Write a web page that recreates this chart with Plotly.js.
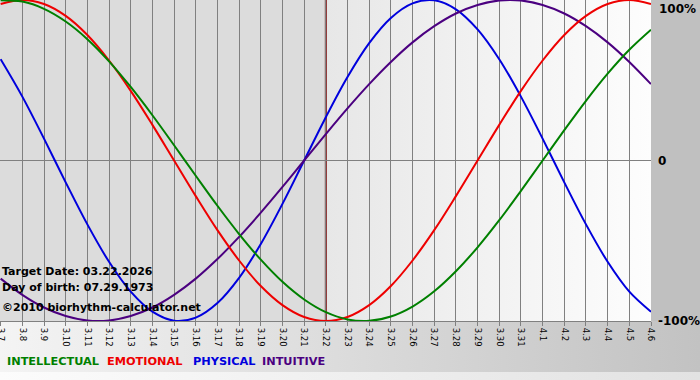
<!DOCTYPE html>
<html>
<head>
<meta charset="utf-8">
<script src="https://cdn.plot.ly/plotly-3.0.1.min.js"></script>
<style>
html,body{margin:0;padding:0;background:#ffffff;}
#chart{width:700px;height:380px;
background:
 linear-gradient(#dcdcdc,#dcdcdc) 0 0/325px 321px no-repeat,
 linear-gradient(to right,#e7e7e7,#fdfdfd) 325px 0/326px 321px no-repeat,
 linear-gradient(#c0c0c0,#c0c0c0) 651px 0/49px 321px no-repeat,
 linear-gradient(to right,#f4f4f4,#c2c2c2) 0 321px/700px 51px no-repeat,
 linear-gradient(to right,#fcfcfc,#e2e2e2) 0 372px/700px 8px no-repeat;
}
</style>
</head>
<body>
<div id="chart"></div>
<script>
// ---- data ----
const dates = ["3.7","3.8","3.9","3.10","3.11","3.12","3.13","3.14","3.15","3.16","3.17","3.18","3.19","3.20","3.21","3.22","3.23","3.24","3.25","3.26","3.27","3.28","3.29","3.30","3.31","4.1","4.2","4.3","4.4","4.5","4.6"];
const physical = [63.1,39.8,13.6,-13.6,-39.8,-63.1,-81.7,-94.2,-99.8,-97.9,-88.8,-73.1,-52.0,-27.0,0,27.0,52.0,73.1,88.8,97.9,99.8,94.2,81.7,63.1,39.8,13.6,-13.6,-39.8,-63.1,-81.7,-94.2];
const emotional = [97.5,100,97.5,90.1,78.2,62.3,43.4,22.2,0,-22.2,-43.4,-62.3,-78.2,-90.1,-97.5,-100,-97.5,-90.1,-78.2,-62.3,-43.4,-22.2,0,22.2,43.4,62.3,78.2,90.1,97.5,100,97.5];
const intellectual = [99.9,99.0,94.5,86.6,75.6,61.8,45.8,28.2,9.5,-9.5,-28.2,-45.8,-61.8,-75.6,-86.6,-94.5,-99.0,-99.9,-97.2,-91.0,-81.5,-69.0,-54.1,-37.2,-18.9,0,18.9,37.2,54.1,69.0,81.5];
const intuitive = [-73.6,-83.7,-91.6,-96.9,-99.7,-99.7,-96.9,-91.6,-83.7,-73.6,-61.4,-47.6,-32.5,-16.5,0,16.5,32.5,47.6,61.4,73.6,83.7,91.6,96.9,99.7,99.7,96.9,91.6,83.7,73.6,61.4,47.6];
const seriesNames = ["INTELLECTUAL","EMOTIONAL","PHYSICAL","INTUITIVE"];
const targetDate = "3.22";
const yTickVals = [-100, 0];
const yTickText = ["-100%", "0"];
const topLabel = "100%";
const infoLines = ["Target Date: 03.22.2026", "Day of birth: 07.29.1973", "©2010 biorhythm-calculator.net"];

// ---- styling ----
const colors = {INTELLECTUAL:"#008000", EMOTIONAL:"#ee0000", PHYSICAL:"#0000dd", INTUITIVE:"#4b0080"};
const values = {INTELLECTUAL:intellectual, EMOTIONAL:emotional, PHYSICAL:physical, INTUITIVE:intuitive};
const drawOrder = ["PHYSICAL","INTUITIVE","EMOTIONAL","INTELLECTUAL"];

const PW = 651, PH = 321;
const pxX = v => v / PW;
const pxY = v => (PH - v) / PH;
const targetIndex = dates.indexOf(targetDate);

const traces = drawOrder.map(n => ({
  type: "scatter", mode: "lines", name: n,
  x: dates, y: values[n],
  line: {color: colors[n], width: 2, shape: "spline", smoothing: 1},
  hoverinfo: "skip", showlegend: false
}));

const bold = {family: "DejaVu Sans, Verdana, sans-serif", size: 11, color: "#000", weight: "bold"};
const annotations = [];
annotations.push({xref:"paper", yref:"y", x:1, y:100, xanchor:"left", yanchor:"top", xshift:6,
  text: topLabel, showarrow:false, font:{family:"DejaVu Sans, Verdana, sans-serif", size:12, color:"#000", weight:"bold"}});
const infoY = [271, 287, 307];
infoLines.forEach((t, i) => annotations.push({xref:"paper", yref:"paper", x:0, y:pxY(infoY[i]),
  xanchor:"left", yanchor:"middle", text:t, showarrow:false, font:bold}));
const legendX = [5, 105, 191, 260];
seriesNames.forEach((n, i) => annotations.push({xref:"paper", yref:"paper", x:pxX(legendX[i]), y:pxY(361),
  xanchor:"left", yanchor:"middle", text:n, showarrow:false,
  font:{family:"DejaVu Sans, Verdana, sans-serif", size:11.3, color:colors[n], weight:"bold"}}));

const layout = {
  width: 700, height: 380,
  margin: {l:0, r:49, t:0, b:59, pad:0},
  paper_bgcolor: "rgba(0,0,0,0)", plot_bgcolor: "rgba(0,0,0,0)",
  showlegend: false, hovermode: false,
  xaxis: {type:"category", range:[-0.03, 30], showgrid:true, gridcolor:"#808080", gridwidth:1,
    ticks:"outside", ticklen:4, tickcolor:"#808080", tickangle:90,
    tickfont:{family:"DejaVu Sans, Verdana, sans-serif", size:8.5, color:"#000"},
    showline:true, linecolor:"#808080", linewidth:1, zeroline:false, fixedrange:true, automargin:false},
  yaxis: {range:[-100, 100], side:"right", tickvals:yTickVals, ticktext:yTickText,
    showgrid:true, gridcolor:"#808080", gridwidth:1, zeroline:false, ticks:"",
    ticklabelstandoff:6,
    tickfont:{family:"DejaVu Sans, Verdana, sans-serif", size:12, color:"#000", weight:"bold"},
    fixedrange:true, automargin:false},
  shapes: [{type:"line", xref:"x", yref:"paper", x0:targetIndex, x1:targetIndex, y0:0, y1:1,
    line:{color:"#801818", width:2}, layer:"below"}],
  annotations: annotations
};

Plotly.newPlot("chart", traces, layout, {displayModeBar:false, staticPlot:true});
</script>
</body>
</html>
